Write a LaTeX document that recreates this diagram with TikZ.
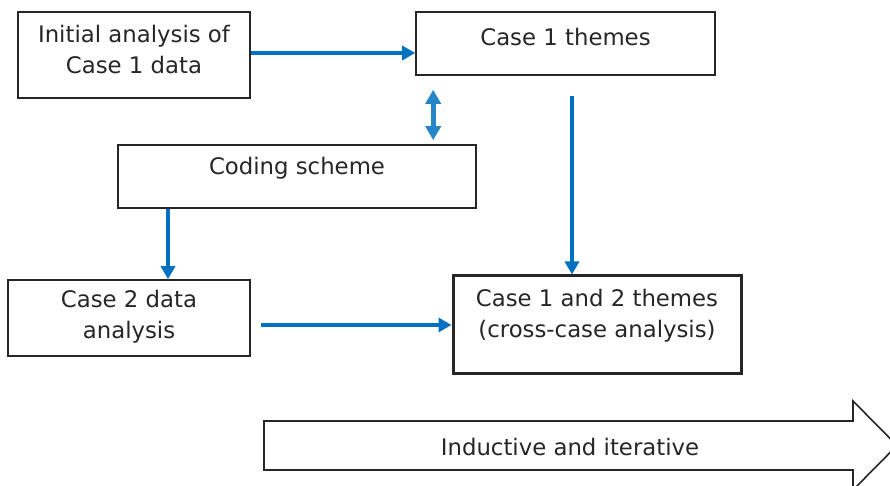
\documentclass[tikz,border=0pt]{standalone}
\usepackage{fontspec}
\setmainfont{DejaVu Sans}
\usetikzlibrary{arrows.meta,positioning}
\definecolor{flowblue}{RGB}{0,112,192}
\definecolor{boxline}{RGB}{38,38,38}

\begin{document}
\begin{tikzpicture}[x=1pt,y=1pt,
    box/.style={draw=boxline,line width=1.6pt,inner sep=0pt},
    txt/.style={inner sep=0pt,align=center,text=boxline,font=\fontsize{22.8}{31}\selectfont},
    flow/.style={draw=flowblue,line width=3.8pt,-{Triangle[width=14pt,length=13pt]}},
    biflow/.style={draw=flowblue!85,line width=5pt,{Triangle[width=15pt,length=14pt]}-{Triangle[width=15pt,length=14pt]}}]
  \useasboundingbox (0,0) rectangle (890,486);
  % boxes
  \node[box,minimum width=232pt,minimum height=86pt] (init) at (134,431) {};
  \node[box,minimum width=299pt,minimum height=63pt] (c1) at (565.5,442.5) {};
  \node[box,minimum width=358pt,minimum height=63pt] (code) at (297,309.5) {};
  \node[box,minimum width=242pt,minimum height=76pt] (c2) at (129,168) {};
  \node[box,line width=3pt,minimum width=288pt,minimum height=98pt] (both) at (597,161) {};
  % texts
  \node[txt] (initt) at ([yshift=5pt]init.center) {Initial analysis of\\Case 1 data};
  \node[txt] (c1t) at ([yshift=6pt]c1.center) {Case 1 themes};
  \node[txt] (codet) at ([yshift=8pt]code.center) {Coding scheme};
  \node[txt] (c2t) at ([yshift=1pt]c2.center) {Case 2 data\\analysis};
  \node[txt] (botht) at ([yshift=9pt]both.center) {Case 1 and 2 themes\\(cross-case analysis)};
  % connectors
  \draw[flow] ([yshift=2pt]init.east) -- ([yshift=2pt]init.east -| c1.west);
  \draw[biflow] ([xshift=18pt,yshift=-14pt]c1.south west) -- ([xshift=18pt,yshift=4pt]c1.south west |- code.north);
  \draw[flow] ([xshift=6.5pt,yshift=-20pt]c1.south) -- ([xshift=6.5pt]c1.south |- both.north);
  \draw[flow] ([xshift=-129pt]code.south) -- ([xshift=-129pt]code.south |- c2.north);
  \draw[flow] ([xshift=10pt]c2.east |- both.west) -- (both.west);
  % big arrow
  \draw[boxline,line width=1.6pt] (264,65) -- (853,65) -- (853,85) -- (897,40.5)
    -- (853,-4) -- (853,16) -- (264,16) -- cycle;
  \node[txt] (trend) at (570,38.5) {Inductive and iterative};
\end{tikzpicture}
\end{document}
